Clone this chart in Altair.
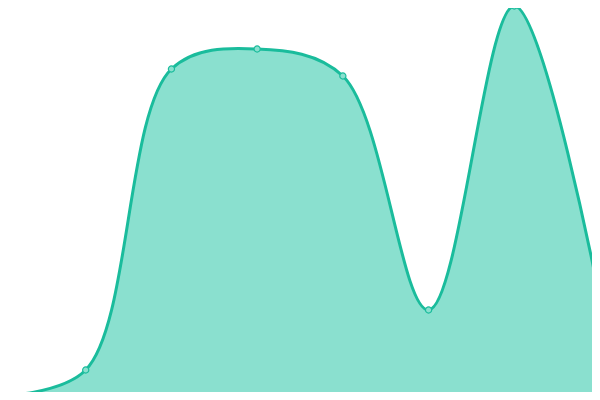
import altair as alt
import pandas as pd

xs = [0, 1, 2, 3, 4, 5, 6, 7]
values = [4, 30, 331, 351, 324, 90, 394, 100]

df = pd.DataFrame({"x": xs, "v": values})

line_color = "#1abc9c"
fill_color = "#8ae0cf"

xenc = alt.X("x:Q", scale=alt.Scale(domain=[0, 7], nice=False, zero=False), axis=None)
yenc = alt.Y("v:Q", scale=alt.Scale(domain=[0, 400], nice=False), axis=None)

area = alt.Chart(df).mark_area(
    interpolate="catmull-rom", color=fill_color, opacity=1,
    line={"color": line_color, "strokeWidth": 3}
).encode(x=xenc, y=yenc)

pts = alt.Chart(df).mark_point(
    filled=True, fill=fill_color, stroke=line_color, strokeWidth=1.2, size=38, opacity=1
).encode(x=xenc, y=yenc)

chart = alt.layer(area, pts).properties(
    width=600, height=400,
    autosize=alt.AutoSizeParams(type="none"),
    padding={"left": -8, "top": -8, "right": -8, "bottom": -8},
).configure_view(stroke=None)

chart.save("out.html", embed_options={"renderer": "svg", "actions": False})
